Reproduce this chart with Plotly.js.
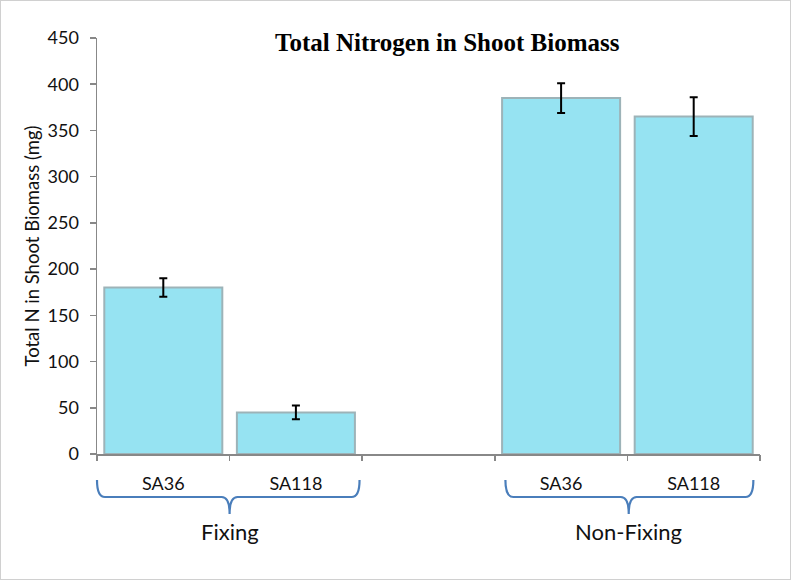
<!DOCTYPE html>
<html>
<head>
<meta charset="utf-8">
<script src="https://cdn.plot.ly/plotly-3.0.1.min.js"></script>
<style>
  html, body { margin: 0; padding: 0; background: #fff; }
  #chart { width: 791px; height: 580px; box-sizing: border-box; border: 1px solid #d0d0d0; }
</style>
</head>
<body>
<div id="chart"></div>
<script>
// ---- data ----
const categories = ["SA36", "SA118", "SA36", "SA118"];
const positions = [0, 1, 3, 4];            // slot index on the x axis (slot 2 is empty)
const totalN = [180, 45, 385, 365];        // mg
const errN = [10, 7.5, 16, 21];            // mg
const groups = ["Fixing", "Non-Fixing"];
const groupSpans = [[-0.5, 1.48, 0.5], [2.58, 4.45, 3.51]]; // start, end, tip (slot units)
const yTicks = [0, 50, 100, 150, 200, 250, 300, 350, 400, 450];
const slotBounds = [-0.5, 0.5, 1.5, 2.5, 3.5, 4.5];

const xRange = [-0.5, 4.5];
const toPaperX = v => (v - xRange[0]) / (xRange[1] - xRange[0]);

const fam = "Lato, 'Liberation Sans', sans-serif";
const labelFont = { family: fam, size: 18, color: "#111" };
const braceColor = "#4a7ebb";

const trace = {
  type: "bar",
  x: positions,
  y: totalN,
  width: 0.89,
  marker: { color: "#96e3f2", line: { color: "#9db3b8", width: 2 } },
  error_y: { type: "data", array: errN, visible: true, color: "#000", thickness: 2, width: 4 },
  hoverinfo: "skip"
};

// dummy trace on overlay axis to show boundary tick marks
const tickTrace = { type: "scatter", x: [xRange[0]], y: [0], xaxis: "x2", mode: "markers",
  marker: { opacity: 0 }, showlegend: false, hoverinfo: "skip" };

const shapes = [];
const annotations = [];
const yTop = -0.0625, yLine = -0.1034, yTip = -0.144;
groupSpans.forEach((s, i) => {
  const a = toPaperX(s[0]), b = toPaperX(s[1]), t = toPaperX(s[2]);
  const r = 0.012; // horizontal curvature
  const path = `M ${a} ${yTop} Q ${a} ${yLine} ${a + r} ${yLine} L ${t - r} ${yLine} Q ${t} ${yLine} ${t} ${yTip} ` +
               `Q ${t} ${yLine} ${t + r} ${yLine} L ${b - r} ${yLine} Q ${b} ${yLine} ${b} ${yTop}`;
  shapes.push({ type: "path", xref: "paper", yref: "paper", path: path,
    line: { color: braceColor, width: 2.2 } });
  annotations.push({ xref: "paper", yref: "paper", x: t, y: yTip - 0.006, xanchor: "center", yanchor: "top",
    text: groups[i], showarrow: false, font: { family: fam, size: 22, color: "#111" } });
});
annotations.push({ xref: "paper", yref: "paper", x: 0.528, y: 0.988, xanchor: "center", yanchor: "middle",
  text: "<b>Total Nitrogen in Shoot Biomass</b>", showarrow: false,
  font: { family: "'Liberation Serif', 'Times New Roman', serif", size: 25, color: "#000" } });

const layout = {
  width: 789, height: 578,
  margin: { l: 96, r: 30, t: 37, b: 125 },
  paper_bgcolor: "#fff", plot_bgcolor: "#fff",
  showlegend: false,
  bargap: 0.11,
  xaxis: {
    range: xRange, tickmode: "array", tickvals: positions, ticktext: categories,
    ticks: "", showgrid: false, zeroline: false, showline: true, linecolor: "#888", linewidth: 1.5,
    tickfont: labelFont, ticklabelstandoff: 13, fixedrange: true
  },
  xaxis2: {
    overlaying: "x", range: xRange, tickmode: "array", tickvals: slotBounds, showticklabels: false,
    ticks: "outside", ticklen: 6, tickcolor: "#888", tickwidth: 1.5, showgrid: false, zeroline: false,
    showline: false, anchor: "y", side: "bottom", fixedrange: true
  },
  yaxis: {
    range: [0, 450], tickmode: "array", tickvals: yTicks, ticks: "outside", ticklen: 6,
    tickcolor: "#888", tickwidth: 1.5, showline: true, linecolor: "#888", linewidth: 1.5,
    showgrid: false, zeroline: false, tickfont: labelFont, ticklabelstandoff: 7, fixedrange: true,
    title: { text: "Total N in Shoot Biomass (mg)", font: { family: fam, size: 18.5, color: "#111" }, standoff: 3 }
  },
  shapes: shapes,
  annotations: annotations
};

Plotly.newPlot("chart", [trace, tickTrace], layout, { displayModeBar: false, staticPlot: true });
</script>
</body>
</html>
